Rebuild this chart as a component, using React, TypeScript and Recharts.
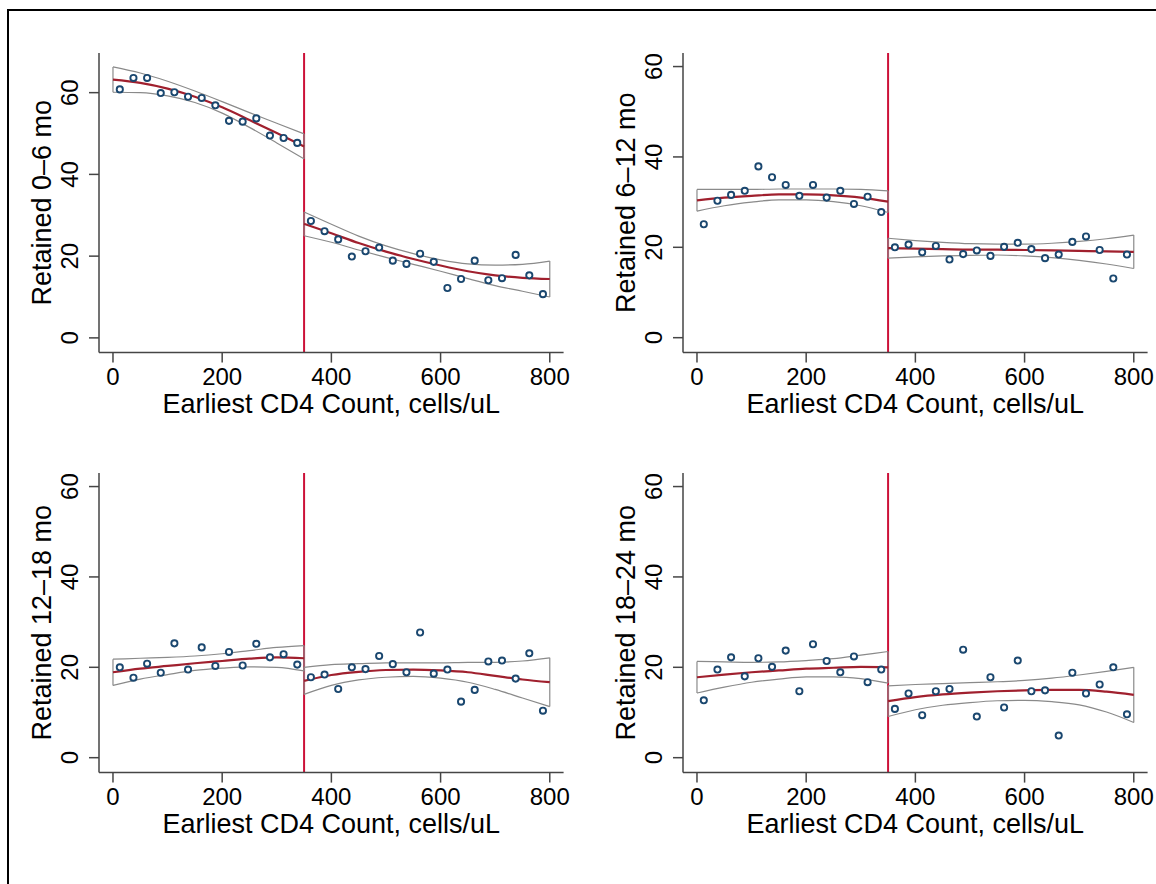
import React from 'react';
import { ComposedChart, XAxis, YAxis, Line, Scatter, ReferenceLine } from 'recharts';

const FONT = '"Liberation Sans", Arial, Helvetica, sans-serif';

// CD4 bin midpoints (cells/uL)
const binMids = [12.5, 37.5, 62.5, 87.5, 112.5, 137.5, 162.5, 187.5, 212.5, 237.5, 262.5, 287.5, 312.5, 337.5,
  362.5, 387.5, 412.5, 437.5, 462.5, 487.5, 512.5, 537.5, 562.5, 587.5, 612.5, 637.5, 662.5, 687.5, 712.5, 737.5, 762.5, 787.5];
const fitXLeft = [0, 50, 100, 150, 200, 250, 300, 350];
const fitXRight = [350, 400, 450, 500, 550, 600, 650, 700, 750, 800];
const xTicks = [0, 200, 400, 600, 800];
const yTicks = [0, 20, 40, 60];
const cutoff = 350;
const xLabel = 'Earliest CD4 Count, cells/uL';

// Panel 1: Retained 0–6 mo
const p1Points = [60.8, 63.6, 63.6, 59.9, 60.1, 59.0, 58.7, 56.9, 53.1, 52.9, 53.7, 49.5, 48.9, 47.7,
  28.6, 26.1, 24.1, 19.9, 21.2, 22.1, 18.9, 18.1, 20.6, 18.6, 12.2, 14.4, 18.9, 14.1, 14.6, 20.3, 15.3, 10.7];
const p1FitL = [63.2, 62.4, 61.0, 59.0, 56.4, 53.3, 50.1, 46.8];
const p1UpL = [66.3, 64.8, 62.8, 60.4, 57.8, 55.1, 52.5, 49.9];
const p1LoL = [60.1, 60.0, 59.2, 57.6, 55.0, 51.5, 47.7, 43.8];
const p1FitR = [27.9, 25.6, 23.2, 21.1, 19.3, 17.7, 16.3, 15.3, 14.7, 14.4];
const p1UpR = [30.8, 27.8, 24.9, 22.5, 20.6, 19.1, 18.1, 17.8, 18.0, 18.8];
const p1LoR = [25.0, 23.4, 21.5, 19.7, 18.0, 16.3, 14.5, 12.8, 11.4, 10.0];

// Panel 2: Retained 6–12 mo
const p2Points = [25.1, 30.3, 31.6, 32.5, 37.9, 35.5, 33.8, 31.4, 33.8, 31.0, 32.5, 29.6, 31.2, 27.8,
  20.0, 20.6, 18.9, 20.3, 17.3, 18.5, 19.3, 18.1, 20.1, 21.0, 19.6, 17.6, 18.4, 21.2, 22.4, 19.4, 13.1, 18.4];
const p2FitL = [30.4, 31.0, 31.4, 31.7, 31.7, 31.5, 31.0, 30.1];
const p2UpL = [32.8, 32.8, 32.8, 32.9, 32.9, 32.9, 32.8, 32.5];
const p2LoL = [28.0, 29.2, 30.0, 30.5, 30.5, 30.1, 29.2, 27.7];
const p2FitR = [19.8, 19.7, 19.6, 19.5, 19.5, 19.4, 19.3, 19.2, 19.1, 19.0];
const p2UpR = [22.0, 21.5, 21.1, 20.8, 20.7, 20.7, 20.9, 21.3, 21.9, 22.7];
const p2LoR = [17.6, 17.9, 18.1, 18.2, 18.3, 18.1, 17.7, 17.1, 16.3, 15.3];

// Panel 3: Retained 12–18 mo
const p3Points = [20.0, 17.7, 20.8, 18.8, 25.3, 19.5, 24.4, 20.3, 23.4, 20.4, 25.2, 22.2, 22.9, 20.6,
  17.8, 18.4, 15.2, 20.0, 19.6, 22.5, 20.7, 18.9, 27.7, 18.6, 19.5, 12.4, 15.0, 21.3, 21.5, 17.5, 23.1, 10.4];
const p3FitL = [18.9, 19.7, 20.3, 20.9, 21.4, 21.9, 22.2, 22.0];
const p3UpL = [21.8, 22.0, 22.2, 22.5, 23.0, 23.7, 24.4, 24.8];
const p3LoL = [16.0, 17.4, 18.4, 19.3, 19.8, 20.1, 20.0, 19.2];
const p3FitR = [17.0, 18.3, 19.0, 19.4, 19.5, 19.3, 18.9, 18.1, 17.3, 16.7];
const p3UpR = [20.0, 20.6, 20.8, 21.0, 21.0, 21.0, 21.1, 21.1, 21.4, 22.1];
const p3LoR = [14.0, 16.0, 17.2, 17.8, 18.0, 17.6, 16.7, 15.1, 13.2, 11.3];

// Panel 4: Retained 18–24 mo
const p4Points = [12.7, 19.5, 22.2, 18.0, 22.0, 20.1, 23.7, 14.7, 25.1, 21.4, 18.9, 22.4, 16.7, 19.5,
  10.8, 14.2, 9.4, 14.7, 15.2, 23.9, 9.1, 17.8, 11.1, 21.5, 14.7, 14.9, 4.9, 18.8, 14.2, 16.2, 20.0, 9.6];
const p4FitL = [17.8, 18.4, 18.9, 19.3, 19.7, 19.9, 20.1, 20.0];
const p4UpL = [21.3, 21.2, 21.1, 21.2, 21.5, 21.9, 22.7, 23.5];
const p4LoL = [14.3, 15.6, 16.7, 17.4, 17.9, 17.9, 17.5, 16.5];
const p4FitR = [12.5, 13.4, 14.0, 14.4, 14.7, 14.9, 15.0, 15.0, 14.6, 13.9];
const p4UpR = [15.9, 16.2, 16.4, 16.6, 16.8, 17.1, 17.6, 18.3, 19.1, 20.0];
const p4LoR = [9.1, 10.6, 11.6, 12.2, 12.6, 12.7, 12.4, 11.7, 10.1, 7.8];

const NAVY = '#1a476f';
const FIT = '#a0202e';
const XLINE = '#cc1139';
const CI = '#8a8a8a';
const AXIS = '#454545';

const zip = (xs: number[], ys: number[]) => xs.map((x, i) => ({ x, y: ys[i] }));
const cap = (xs: number[], lo: number[], up: number[], i: number) => [
  { x: xs[i], y: lo[i] },
  { x: xs[i], y: up[i] },
];

const XTick = (props: any) => {
  const { x, y, payload } = props;
  return (
    <text x={x} y={y} dy={22} textAnchor="middle" fontFamily={FONT} fontSize={24} fill="#000">
      {payload.value}
    </text>
  );
};

const YTick = (props: any) => {
  const { x, y, payload } = props;
  return (
    <text
      transform={`translate(${x - 19.5}, ${y}) rotate(-90)`}
      dy="0.36em"
      textAnchor="middle"
      fontFamily={FONT}
      fontSize={24}
      fill="#000"
    >
      {payload.value}
    </text>
  );
};

type PanelProps = {
  plotLeft: number;
  plotTop: number;
  yLabel: string;
  yDomain: [number, number];
  pts: number[];
  fitL: number[];
  upL: number[];
  loL: number[];
  fitR: number[];
  upR: number[];
  loR: number[];
};

const YW = 90;
const MT = 10;
const PW = 464.6;
const PH = 299.6;
const MR = 22;
const XH = 80;

function Panel({ plotLeft, plotTop, yLabel, yDomain, pts, fitL, upL, loL, fitR, upR, loR }: PanelProps) {
  const scatterData = zip(binMids, pts);
  const lastL = fitXLeft.length - 1;
  const lastR = fitXRight.length - 1;
  const ciLine = (data: { x: number; y: number }[], key: string, type: any = 'monotone') => (
    <Line
      key={key}
      data={data}
      dataKey="y"
      type={type}
      stroke={CI}
      strokeWidth={1.2}
      dot={false}
      activeDot={false}
      isAnimationActive={false}
      legendType="none"
    />
  );
  const fitLine = (data: { x: number; y: number }[], key: string) => (
    <Line
      key={key}
      data={data}
      dataKey="y"
      type="monotone"
      stroke={FIT}
      strokeWidth={2.2}
      dot={false}
      activeDot={false}
      isAnimationActive={false}
      legendType="none"
    />
  );
  return (
    <div style={{ position: 'absolute', left: plotLeft - YW, top: plotTop - MT }}>
      <ComposedChart
        width={YW + PW + MR}
        height={MT + PH + XH}
        margin={{ top: MT, right: MR, bottom: 0, left: 0 }}
      >
        <XAxis
          type="number"
          dataKey="x"
          domain={[-25.6, 825.3]}
          ticks={xTicks}
          interval={0}
          allowDataOverflow
          height={XH}
          tickSize={10}
          tickMargin={0}
          stroke={AXIS}
          strokeWidth={1.5}
          tick={<XTick />}
          label={(p: any) => {
            const vb = p.viewBox;
            return (
              <text
                x={vb.x + vb.width / 2}
                y={vb.y + 60.4}
                textAnchor="middle"
                fontFamily={FONT}
                fontSize={27}
                fill="#000"
              >
                {xLabel}
              </text>
            );
          }}
        />
        <YAxis
          type="number"
          dataKey="y"
          domain={yDomain}
          ticks={yTicks}
          interval={0}
          allowDataOverflow
          width={YW}
          tickSize={10}
          tickMargin={0}
          stroke={AXIS}
          strokeWidth={1.5}
          tick={<YTick />}
          label={(p: any) => {
            const vb = p.viewBox;
            const cx = vb.x + vb.width - 58;
            const cy = vb.y + vb.height / 2;
            return (
              <text
                transform={`translate(${cx}, ${cy}) rotate(-90)`}
                dy="0.36em"
                textAnchor="middle"
                fontFamily={FONT}
                fontSize={27}
                fill="#000"
              >
                {yLabel}
              </text>
            );
          }}
        />
        <ReferenceLine x={cutoff} stroke={XLINE} strokeWidth={2} />
        {ciLine(zip(fitXLeft, upL), 'upL')}
        {ciLine(zip(fitXLeft, loL), 'loL')}
        {ciLine(cap(fitXLeft, loL, upL, 0), 'capL0', 'linear')}
        {ciLine(cap(fitXLeft, loL, upL, lastL), 'capL1', 'linear')}
        {ciLine(zip(fitXRight, upR), 'upR')}
        {ciLine(zip(fitXRight, loR), 'loR')}
        {ciLine(cap(fitXRight, loR, upR, 0), 'capR0', 'linear')}
        {ciLine(cap(fitXRight, loR, upR, lastR), 'capR1', 'linear')}
        {fitLine(zip(fitXLeft, fitL), 'fitL')}
        {fitLine(zip(fitXRight, fitR), 'fitR')}
        <Scatter
          data={scatterData}
          isAnimationActive={false}
          legendType="none"
          shape={(p: any) => (
            <circle cx={p.cx} cy={p.cy} r={3.1} fill="#ffffff" stroke={NAVY} strokeWidth={1.9} />
          )}
        />
      </ComposedChart>
    </div>
  );
}

export default function App() {
  return (
    <div style={{ position: 'absolute', left: 0, top: 0, width: 1156, height: 884, overflow: 'hidden', background: '#fff' }}>
      <div
        style={{
          position: 'absolute',
          left: 7,
          top: 9,
          width: 1300,
          height: 1000,
          border: '2px solid #000',
          boxSizing: 'border-box',
        }}
      />
      <Panel plotLeft={99} plotTop={52.7} yLabel="Retained 0–6 mo" yDomain={[-3.6, 69.7]}
        pts={p1Points} fitL={p1FitL} upL={p1UpL} loL={p1LoL} fitR={p1FitR} upR={p1UpR} loR={p1LoR} />
      <Panel plotLeft={682.7} plotTop={52.7} yLabel="Retained 6–12 mo" yDomain={[-3.3, 63.0]}
        pts={p2Points} fitL={p2FitL} upL={p2UpL} loL={p2LoL} fitR={p2FitR} upR={p2UpR} loR={p2LoR} />
      <Panel plotLeft={99} plotTop={472.7} yLabel="Retained 12–18 mo" yDomain={[-3.3, 63.0]}
        pts={p3Points} fitL={p3FitL} upL={p3UpL} loL={p3LoL} fitR={p3FitR} upR={p3UpR} loR={p3LoR} />
      <Panel plotLeft={682.7} plotTop={472.7} yLabel="Retained 18–24 mo" yDomain={[-3.3, 63.0]}
        pts={p4Points} fitL={p4FitL} upL={p4UpL} loL={p4LoL} fitR={p4FitR} upR={p4UpR} loR={p4LoR} />
    </div>
  );
}
